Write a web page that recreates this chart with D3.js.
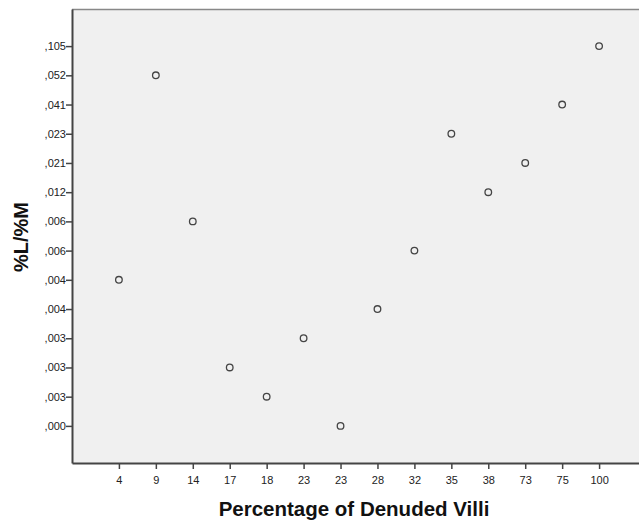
<!DOCTYPE html>
<html><head><meta charset="utf-8">
<script src="https://cdn.jsdelivr.net/npm/d3@7"></script>
<style>body{margin:0;background:#fff;overflow:hidden}svg{display:block}</style>
</head><body>
<svg id="c" width="639" height="521"></svg>
<script>
// x categories (Percentage of Denuded Villi), in axis order
const xLabels = ["4","9","14","17","18","23","23","28","32","35","38","73","75","100"];
// y categories (%L/%M), bottom to top
const yLabels = [",000",",003",",003",",003",",004",",004",",006",",006",",012",",021",",023",",041",",052",",105"];
// points: x category index, y category index
const pointX = [0,1,2,3,4,5,6,7,8,9,10,11,12,13];
const pointY = [5,12,7,2,1,3,0,4,6,10,8,9,11,13];

const svg = d3.select("#c");
const pLeft = 72, pRight = 646, pTop = 9, pBottom = 463;

const x = d3.scalePoint().domain(d3.range(xLabels.length)).range([pLeft, pRight]).padding(1.27);
const y = d3.scalePoint().domain(d3.range(yLabels.length)).range([pBottom, pTop]).padding(1.27);

svg.append("rect").attr("x", pLeft).attr("y", pTop).attr("width", pRight-pLeft).attr("height", pBottom-pTop)
  .attr("fill", "#f0f0f0");
svg.append("line").attr("x1", pLeft).attr("x2", pRight).attr("y1", pTop+0.5).attr("y2", pTop+0.5)
  .attr("stroke", "#888").attr("stroke-width", 1.5);

const xAxis = svg.append("g").attr("transform", `translate(0,${pBottom})`)
  .call(d3.axisBottom(x).tickFormat(i => xLabels[i]).tickSize(6).tickSizeOuter(0));
const yAxis = svg.append("g").attr("transform", `translate(${pLeft},0)`)
  .call(d3.axisLeft(y).tickFormat(i => yLabels[i]).tickSize(6).tickSizeOuter(0));
[xAxis, yAxis].forEach(g => {
  g.select(".domain").attr("stroke", "#444").attr("stroke-width", 2);
  g.selectAll(".tick line").attr("stroke", "#444").attr("stroke-width", 1.5);
  g.selectAll(".tick text").attr("fill", "#222").style("font-family", "Liberation Sans, Arial, sans-serif").style("font-size", "11px");
});
xAxis.selectAll(".tick text").attr("dy", "1.05em");
yAxis.selectAll(".tick text").attr("x", -6);

svg.append("g").selectAll("circle").data(pointX).join("circle")
  .attr("cx", (d) => x(d)).attr("cy", (d, i) => y(pointY[i])).attr("r", 3.3)
  .attr("fill", "none").attr("stroke", "#444").attr("stroke-width", 1.3);

svg.append("text").attr("x", 354).attr("y", 516).attr("text-anchor", "middle")
  .style("font-family", "Liberation Sans, Arial, sans-serif").style("font-weight", "bold").style("font-size", "20.5px")
  .attr("fill", "#111").text("Percentage of Denuded Villi");
svg.append("text").attr("transform", "translate(28,237) rotate(-90)").attr("text-anchor", "middle")
  .style("font-family", "Liberation Sans, Arial, sans-serif").style("font-weight", "bold").style("font-size", "20px")
  .attr("fill", "#111").text("%L/%M");
</script>
</body></html>
